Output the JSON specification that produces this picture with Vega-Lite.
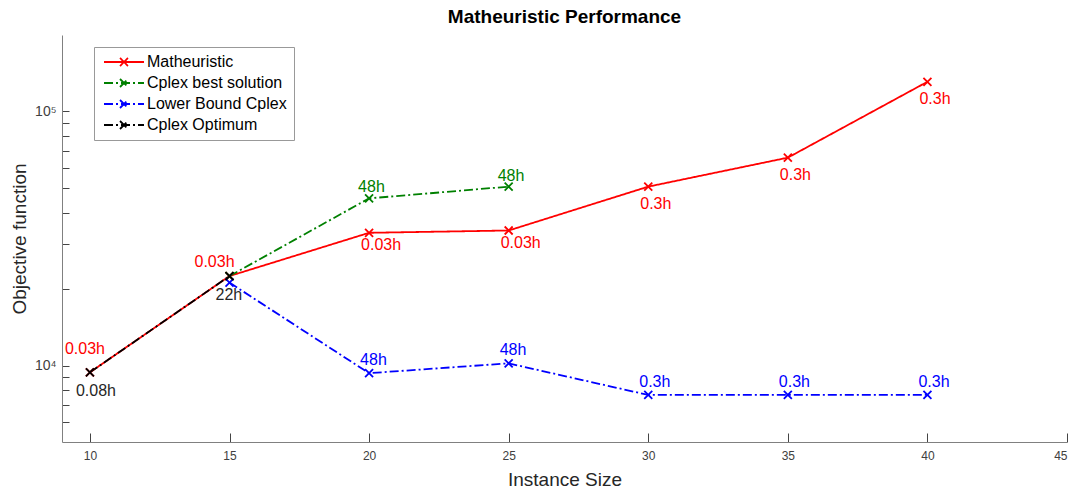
{
  "$schema": "https://vega.github.io/schema/vega-lite/v6.json",
  "autosize": {"type": "none"},
  "padding": {"left": 62, "top": 35, "right": 12, "bottom": 46},
  "width": 1005,
  "height": 407,
  "background": "white",
  "title": {"text": "Matheuristic Performance", "font": "Liberation Sans", "fontSize": 19, "fontWeight": "bold", "color": "#000000", "anchor": "middle", "offset": 8},
  "config": {"view": {"stroke": null}, "font": "Liberation Sans"},
  "data": {"values": [
    {"series": "Matheuristic", "size": 10, "obj": 9400, "time": "0.03h"},
    {"series": "Matheuristic", "size": 15, "obj": 22500, "time": "0.03h"},
    {"series": "Matheuristic", "size": 20, "obj": 33300, "time": "0.03h"},
    {"series": "Matheuristic", "size": 25, "obj": 34000, "time": "0.03h"},
    {"series": "Matheuristic", "size": 30, "obj": 50600, "time": "0.3h"},
    {"series": "Matheuristic", "size": 35, "obj": 65800, "time": "0.3h"},
    {"series": "Matheuristic", "size": 40, "obj": 130900, "time": "0.3h"},
    {"series": "Cplex best solution", "size": 15, "obj": 22500, "time": ""},
    {"series": "Cplex best solution", "size": 20, "obj": 45500, "time": "48h"},
    {"series": "Cplex best solution", "size": 25, "obj": 50600, "time": "48h"},
    {"series": "Lower Bound Cplex", "size": 15, "obj": 21200, "time": ""},
    {"series": "Lower Bound Cplex", "size": 20, "obj": 9330, "time": "48h"},
    {"series": "Lower Bound Cplex", "size": 25, "obj": 10200, "time": "48h"},
    {"series": "Lower Bound Cplex", "size": 30, "obj": 7660, "time": "0.3h"},
    {"series": "Lower Bound Cplex", "size": 35, "obj": 7660, "time": "0.3h"},
    {"series": "Lower Bound Cplex", "size": 40, "obj": 7660, "time": "0.3h"},
    {"series": "Cplex Optimum", "size": 10, "obj": 9400, "time": "0.08h"},
    {"series": "Cplex Optimum", "size": 15, "obj": 22500, "time": "22h"}
  ]},
  "encoding": {
    "x": {"field": "size", "type": "quantitative",
      "scale": {"domain": [9, 45], "nice": false, "zero": false},
      "axis": {"title": "Instance Size", "values": [10, 15, 20, 25, 30, 35, 40, 45], "grid": false,
        "tickSize": -9, "tickWidth": 1, "labelPadding": 17, "labelFontSize": 12, "labelColor": "#404040", "labelFont": "Liberation Sans",
        "domainColor": "#808080", "tickColor": "#444444", "titleFont": "Liberation Sans",
        "titleFontSize": 19, "titleFontWeight": "normal", "titleColor": "#262626", "titlePadding": 9}},
    "y": {"field": "obj", "type": "quantitative",
      "scale": {"type": "log", "domain": [5000, 200000], "nice": false},
      "axis": {"title": "Objective function", "grid": false,
        "values": [6000, 7000, 8000, 9000, 10000, 20000, 30000, 40000, 50000, 60000, 70000, 80000, 90000, 100000],
        "labelExpr": "datum.value == 10000 ? '10⁴' : (datum.value == 100000 ? '10⁵' : '')",
        "tickSize": -7, "tickWidth": 1, "labelPadding": 13, "labelFontSize": 14, "labelColor": "#404040", "labelFont": "Liberation Sans",
        "domainColor": "#808080", "tickColor": "#444444", "titleFont": "Liberation Sans",
        "titleFontSize": 19, "titleFontWeight": "normal", "titleColor": "#262626", "titlePadding": 5}}
  },
  "layer": [
    {"mark": {"type": "line", "strokeWidth": 1.8},
      "encoding": {
        "color": {"field": "series", "type": "nominal",
          "scale": {"domain": ["Matheuristic", "Cplex best solution", "Lower Bound Cplex", "Cplex Optimum"], "range": ["#ff0000", "#008000", "#0000ff", "#000000"]},
          "legend": {"title": null, "orient": "none", "legendX": 32, "legendY": 12,
            "symbolType": "M-4,0L4,0M-0.8,-0.8L0.8,0.8M-0.8,0.8L0.8,-0.8", "symbolSize": 100, "symbolStrokeWidth": 1.8,
            "symbolOffset": 15, "labelOffset": 15, "labelFontSize": 16, "labelFont": "Liberation Sans", "labelColor": "#000000",
            "padding": 7, "rowPadding": 5, "strokeColor": "#999999", "fillColor": "white", "labelLimit": 300}},
        "strokeDash": {"field": "series", "type": "nominal",
          "scale": {"domain": ["Matheuristic", "Cplex best solution", "Lower Bound Cplex", "Cplex Optimum"], "range": [[1, 0], [9, 3, 2, 3], [9, 3, 2, 3], [9, 3, 2, 3]]}}
      }},
    {"mark": {"type": "point", "shape": "M-1,-1L1,1M-1,1L1,-1", "filled": false, "size": 64, "strokeWidth": 1.8, "opacity": 1},
      "encoding": {"color": {"field": "series", "type": "nominal", "legend": null}}},
    {"transform": [{"filter": "datum.series == 'Matheuristic' && datum.size == 10"}],
      "mark": {"type": "text", "align": "left", "baseline": "middle", "dx": -25, "dy": -23, "fontSize": 16, "font": "Liberation Sans"},
      "encoding": {"text": {"field": "time"}, "color": {"field": "series", "type": "nominal", "legend": null}}},
    {"transform": [{"filter": "datum.series == 'Matheuristic' && datum.size == 15"}],
      "mark": {"type": "text", "align": "left", "baseline": "middle", "dx": -35, "dy": -14, "fontSize": 16, "font": "Liberation Sans"},
      "encoding": {"text": {"field": "time"}, "color": {"field": "series", "type": "nominal", "legend": null}}},
    {"transform": [{"filter": "datum.series == 'Matheuristic' && datum.size >= 20 && datum.size <= 25"}],
      "mark": {"type": "text", "align": "left", "baseline": "middle", "dx": -8, "dy": 12, "fontSize": 16, "font": "Liberation Sans"},
      "encoding": {"text": {"field": "time"}, "color": {"field": "series", "type": "nominal", "legend": null}}},
    {"transform": [{"filter": "datum.series == 'Matheuristic' && datum.size >= 30"}],
      "mark": {"type": "text", "align": "left", "baseline": "middle", "dx": -8, "dy": 17, "fontSize": 16, "font": "Liberation Sans"},
      "encoding": {"text": {"field": "time"}, "color": {"field": "series", "type": "nominal", "legend": null}}},
    {"transform": [{"filter": "datum.series == 'Cplex best solution' && datum.size >= 20"}],
      "mark": {"type": "text", "align": "left", "baseline": "middle", "dx": -11, "dy": -11, "fontSize": 16, "font": "Liberation Sans"},
      "encoding": {"text": {"field": "time"}, "color": {"field": "series", "type": "nominal", "legend": null}}},
    {"transform": [{"filter": "datum.series == 'Lower Bound Cplex' && datum.size >= 20"}],
      "mark": {"type": "text", "align": "left", "baseline": "middle", "dx": -9, "dy": -13, "fontSize": 16, "font": "Liberation Sans"},
      "encoding": {"text": {"field": "time"}, "color": {"field": "series", "type": "nominal", "legend": null}}},
    {"transform": [{"filter": "datum.series == 'Cplex Optimum'"}],
      "mark": {"type": "text", "align": "left", "baseline": "middle", "dx": -14, "dy": 19, "fontSize": 16, "font": "Liberation Sans", "color": "#262626"},
      "encoding": {"text": {"field": "time"}}}
  ]
}
